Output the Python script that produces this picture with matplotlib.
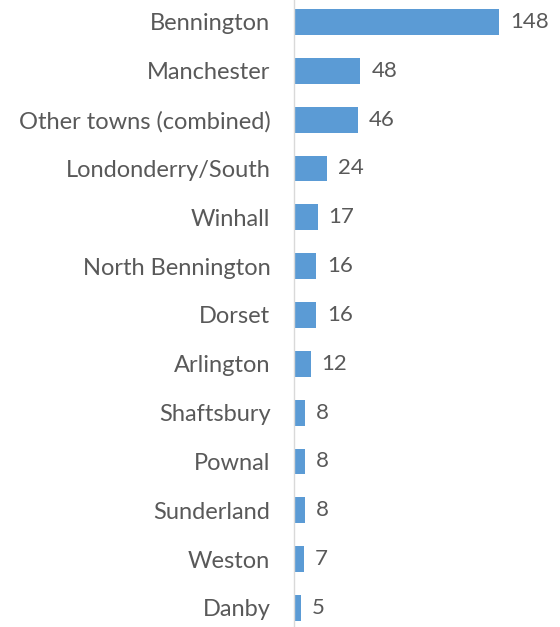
import matplotlib
matplotlib.use("Agg")
import matplotlib.pyplot as plt

towns = ["Bennington", "Manchester", "Other towns (combined)", "Londonderry/South",
         "Winhall", "North Bennington", "Dorset", "Arlington", "Shaftsbury",
         "Pownal", "Sunderland", "Weston", "Danby"]
counts = [148, 48, 46, 24, 17, 16, 16, 12, 8, 8, 8, 7, 5]

fig = plt.figure(figsize=(5.6, 6.27), dpi=100)
left = 294 / 560
ax = fig.add_axes([left, 0, 1 - left, 1])
ypos = list(range(len(towns)))
ax.barh(ypos, counts, height=0.53, color="#5B9BD5")
ax.set_xlim(0, (560 - 294) / 1.385)
ax.set_ylim(12.39, -0.45)

for s in ["top", "right", "bottom"]:
    ax.spines[s].set_visible(False)
ax.spines["left"].set_color("#D9D9D9")
ax.spines["left"].set_linewidth(1)
ax.set_xticks([])
ax.set_yticks(ypos)
ax.set_yticklabels(towns, fontsize=17, color="#595959", family="Lato")
ax.tick_params(axis="y", length=0, pad=17)

for y, v in zip(ypos, counts):
    ax.annotate(str(v), (v, y), xytext=(11, 0), textcoords="offset pixels",
                va="center", ha="left", fontsize=16, color="#595959", family="Lato")

fig.savefig("out.png", dpi=100)
